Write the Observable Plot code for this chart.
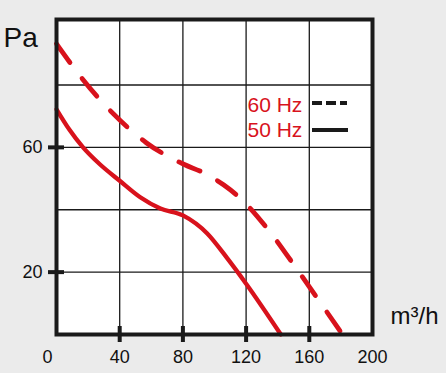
<!DOCTYPE html>
<html><head><meta charset="utf-8">
<script src="https://cdn.jsdelivr.net/npm/d3@7"></script>
<script src="https://cdn.jsdelivr.net/npm/@observablehq/plot@0.6"></script>
<style>
html,body{margin:0;padding:0;background:#ebebeb;}
#chart{width:446px;height:373px;}
</style></head><body><div id="chart"></div>
<script>
// 50 Hz curve (solid): flow m³/h -> pressure Pa
const flow50 = [0, 8, 16.8, 27.6, 40, 53, 65.7, 80, 95.4, 108, 120, 142];
const pressure50 = [72.2, 65.8, 60, 54.5, 49.3, 44, 40.4, 38.2, 32.4, 24.5, 16.3, 0];
// 60 Hz curve (dashed)
const flow60 = [0, 16.8, 35.9, 56.8, 80.9, 93, 105.7, 116.5, 134.9, 151.4, 167.3, 181];
const pressure60 = [93.2, 81.7, 70.8, 61.5, 54.5, 51.9, 48, 43.6, 33, 21.5, 10, 0];
const xTickValues = [0, 40, 80, 120, 160, 200];
const xGridValues = [40, 80, 120, 160];
const yGridValues = [20, 40, 60, 80];
const yTickValues = [20, 60];
const seriesLabels = ["60 Hz", "50 Hz"];
const yUnit = "Pa";
const xUnit = "m³/h";

const red = "#d8121c";
const ink = "#1a1a1a";
const d50 = flow50.map((q, i) => ({q, p: pressure50[i]}));
const d60 = flow60.map((q, i) => ({q, p: pressure60[i]}));

const plot = Plot.plot({
  width: 446, height: 373,
  marginLeft: 56, marginRight: 74, marginTop: 19, marginBottom: 39,
  x: {domain: [0, 200], label: null},
  y: {domain: [0, 101], label: null},
  style: {background: "transparent", fontFamily: "'Liberation Sans', Arial, sans-serif", color: "#111", overflow: "visible"},
  marks: [
    Plot.frame({fill: "white"}),
    Plot.ruleX(xGridValues, {stroke: ink, strokeWidth: 1.3}),
    Plot.ruleY(yGridValues, {stroke: ink, strokeWidth: 1.3}),
    Plot.line(d60, {x: "q", y: "p", curve: "monotone-x", stroke: red, strokeWidth: 4.8, strokeDasharray: "23,20"}),
    Plot.line(d50, {x: "q", y: "p", curve: "monotone-x", stroke: red, strokeWidth: 4.3}),
    Plot.frame({stroke: ink, strokeWidth: 4}),
    Plot.axisX(xGridValues, {tickSize: 16, dy: -8, tickFormat: () => "", strokeWidth: 4, stroke: ink, label: null}),
    Plot.axisY(yTickValues, {tickSize: 16, dx: 8, tickFormat: () => "", strokeWidth: 4, stroke: ink, label: null}),
    Plot.axisX(xTickValues.slice(1), {tickSize: 0, tickPadding: 16, fontSize: 18, label: null}),
    Plot.axisX(xTickValues.slice(0, 1), {tickSize: 0, tickPadding: 16, fontSize: 18, dx: -9, label: null}),
    Plot.axisY(yTickValues, {tickSize: 0, tickPadding: 14, fontSize: 18, label: null}),
    Plot.text([yUnit], {frameAnchor: "top-left", textAnchor: "start", lineAnchor: "middle", dx: -53, dy: 19, fontSize: 28, fill: "#111"}),
    Plot.text([xUnit], {frameAnchor: "bottom-right", textAnchor: "start", lineAnchor: "middle", dx: 18, dy: -18, fontSize: 24, fill: "#111"}),
    Plot.text([seriesLabels[0]], {frameAnchor: "top-left", textAnchor: "start", lineAnchor: "middle", dx: 191, dy: 86, fontSize: 21, fill: red}),
    Plot.text([seriesLabels[1]], {frameAnchor: "top-left", textAnchor: "start", lineAnchor: "middle", dx: 191, dy: 111, fontSize: 21, fill: red})
  ]
});

// legend swatches
const svg = d3.select(plot);
svg.append("line").attr("x1", 312).attr("x2", 347).attr("y1", 103).attr("y2", 103)
  .attr("stroke", ink).attr("stroke-width", 4).attr("stroke-dasharray", "10,4");
svg.append("line").attr("x1", 312).attr("x2", 348).attr("y1", 130).attr("y2", 130)
  .attr("stroke", ink).attr("stroke-width", 4);

document.getElementById("chart").appendChild(plot);
</script></body></html>
